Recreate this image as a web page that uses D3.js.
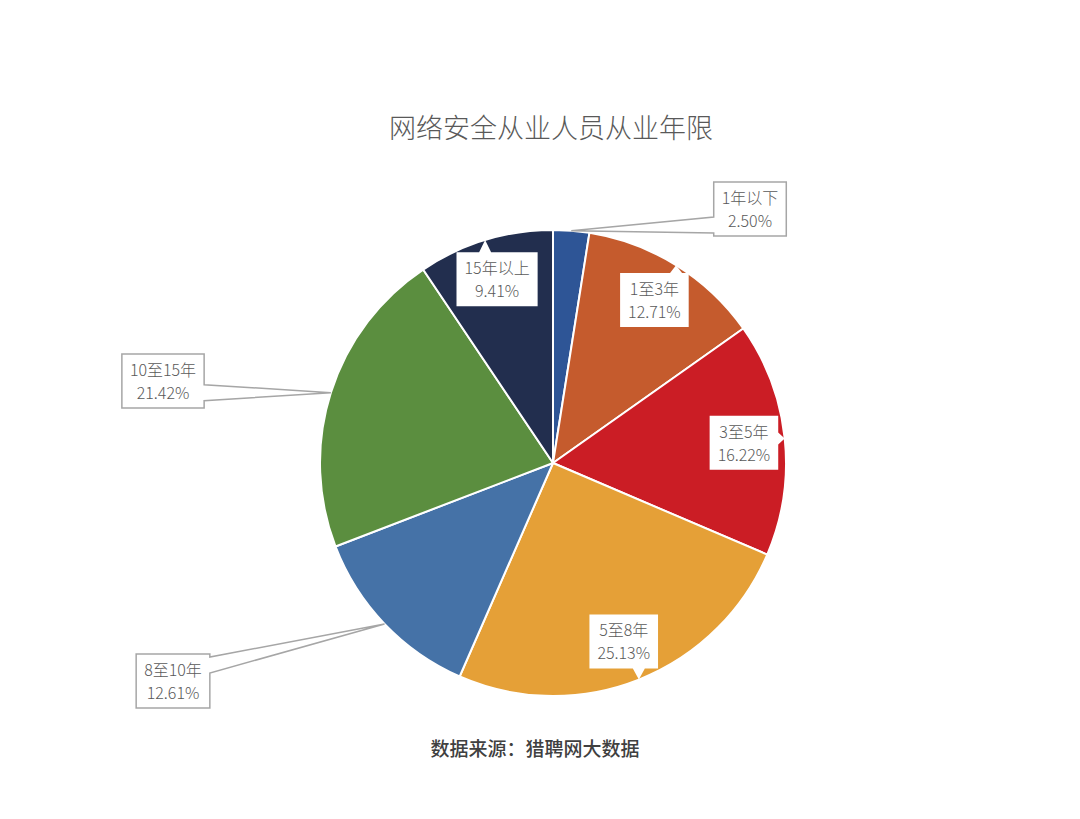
<!DOCTYPE html>
<html>
<head>
<meta charset="utf-8">
<script src="https://cdn.jsdelivr.net/npm/d3@7"></script>
<style>
  html, body { margin: 0; padding: 0; background: #fff; }
  svg text { font-family: "Noto Sans CJK SC", "Noto Sans", sans-serif; }
</style>
</head>
<body>
<svg id="chart"></svg>
<script>
// data
const categories = ["1年以下", "1至3年", "3至5年", "5至8年", "8至10年", "10至15年", "15年以上"];
const shares = [2.50, 12.71, 16.22, 25.13, 12.61, 21.42, 9.41];
const colors = ["#2E5596", "#C55B2D", "#CB1D25", "#E5A037", "#4572A7", "#5B8E3F", "#222E4E"];
// labels dragged outside the pie (offset of box centre from pie centre)
const outside = { "1年以下": [197, -254], "10至15年": [-390, -82], "8至10年": [-380, 218] };

const W = 1080, H = 819;
const cx = 553, cy = 463, R = 233;
const labelR = 192;

const svg = d3.select("#chart").attr("width", W).attr("height", H);

svg.append("text")
    .attr("x", 551).attr("y", 126)
    .attr("text-anchor", "middle")
    .attr("dominant-baseline", "central")
    .attr("font-size", 27)
    .attr("font-weight", 300)
    .attr("fill", "#595959")
    .text("网络安全从业人员从业年限");

const pie = d3.pie().sort(null).value(d => d.v);
const arcs = pie(categories.map((c, i) => ({ name: c, v: shares[i], color: colors[i] })));
const arc = d3.arc().innerRadius(0).outerRadius(R);

const g = svg.append("g").attr("transform", `translate(${cx},${cy})`);

g.selectAll(".slice")
    .data(arcs)
    .enter().append("path")
    .attr("class", "slice")
    .attr("d", arc)
    .attr("fill", d => d.data.color)
    .attr("stroke", "#fff")
    .attr("stroke-width", 2)
    .attr("stroke-linejoin", "round");

// box with a wedge pointing at (tx, ty)
const callout = (x0, y0, x1, y1, tx, ty, w) => {
    let side;
    if (tx > x1) side = "r";
    else if (tx < x0) side = "l";
    else if (ty < y0) side = "t";
    else side = "b";
    const clamp = (v, a, b) => Math.max(a + w / 2 + 3, Math.min(b - w / 2 - 3, v));
    const p = [];
    p.push([x0, y0]);
    if (side === "t") { const m = clamp(tx, x0, x1); p.push([m - w / 2, y0], [tx, ty], [m + w / 2, y0]); }
    p.push([x1, y0]);
    if (side === "r") { const m = clamp(ty, y0, y1); p.push([x1, m - w / 2], [tx, ty], [x1, m + w / 2]); }
    p.push([x1, y1]);
    if (side === "b") { const m = clamp(tx, x0, x1); p.push([m + w / 2, y1], [tx, ty], [m - w / 2, y1]); }
    p.push([x0, y1]);
    if (side === "l") { const m = clamp(ty, y0, y1); p.push([x0, m + w / 2], [tx, ty], [x0, m - w / 2]); }
    return "M" + p.map(q => q.join(",")).join("L") + "Z";
};

const labels = g.selectAll(".label")
    .data(arcs)
    .enter().append("g")
    .attr("class", "label");

labels.each(function (d) {
    const sel = d3.select(this);
    const mid = (d.startAngle + d.endAngle) / 2;
    const tip = [R * Math.sin(mid), -R * Math.cos(mid)];
    const off = outside[d.data.name];
    const c = off ? off : [labelR * Math.sin(mid), -labelR * Math.cos(mid)];
    const pct = d.data.v.toFixed(2) + "%";

    const t1 = sel.append("text")
        .attr("x", c[0]).attr("y", c[1] - 12)
        .attr("text-anchor", "middle")
        .attr("dominant-baseline", "central")
        .attr("font-size", 16)
        .attr("font-weight", 300)
        .attr("fill", "#595959")
        .text(d.data.name);
    const t2 = sel.append("text")
        .attr("x", c[0]).attr("y", c[1] + 11)
        .attr("text-anchor", "middle")
        .attr("dominant-baseline", "central")
        .attr("font-size", 16)
        .attr("font-weight", 300)
        .attr("fill", "#595959")
        .text(pct);

    const tw = Math.max(t1.node().getComputedTextLength(), t2.node().getComputedTextLength());
    const bw = tw + 16, bh = 54;
    const x0 = c[0] - bw / 2, x1 = c[0] + bw / 2, y0 = c[1] - bh / 2, y1 = c[1] + bh / 2;

    sel.insert("path", "text")
        .attr("d", callout(x0, y0, x1, y1, tip[0], tip[1], off ? 16 : 12))
        .attr("fill", "#fff")
        .attr("stroke", off ? "#a6a6a6" : "none")
        .attr("stroke-width", 1.5)
        .attr("stroke-linejoin", "miter");
});

svg.append("text")
    .attr("x", 535).attr("y", 747)
    .attr("text-anchor", "middle")
    .attr("dominant-baseline", "central")
    .attr("font-size", 19)
    .attr("font-weight", 500)
    .attr("fill", "#404040")
    .text("数据来源：猎聘网大数据");
</script>
</body>
</html>
